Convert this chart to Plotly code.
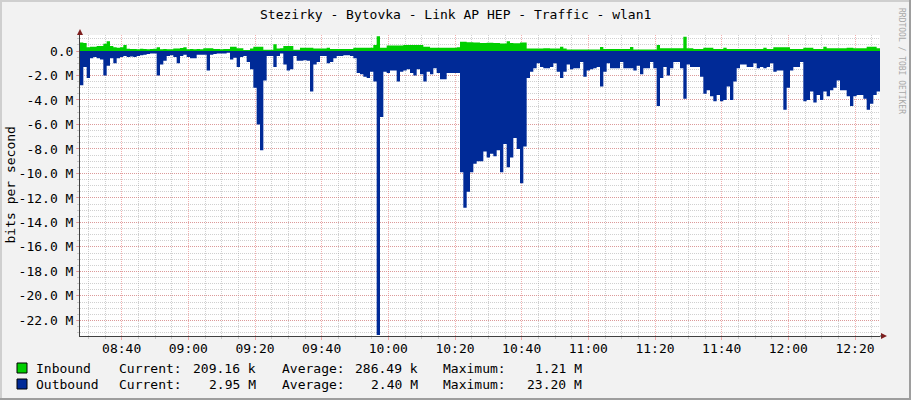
import numpy as np
import pandas as pd
import plotly.graph_objects as go

# ---------------- data (Mbit/s, one value per minute) ----------------
start_time = "2024-01-01 08:27:30"
end_time = "2024-01-01 12:27:30"

inbound_mbps = [
    0.7, 0.65, 0.3, 0.35, 0.35, 0.4, 0.4, 0.6, 0.8, 0.4,
    0.3, 0.27, 0.3, 0.5, 0.18, 0.16, 0.16, 0.15, 0.18, 0.16,
    0.15, 0.16, 0.18, 0.3, 0.15, 0.16, 0.15, 0.15, 0.2, 0.2,
    0.25, 0.3, 0.15, 0.16, 0.15, 0.16, 0.15, 0.22, 0.22, 0.22,
    0.16, 0.16, 0.15, 0.16, 0.16, 0.35, 0.35, 0.22, 0.22, 0.08,
    0.08, 0.2, 0.35, 0.35, 0.35, 0.1, 0.1, 0.1, 0.55, 0.2,
    0.22, 0.4, 0.4, 0.4, 0.1, 0.1, 0.27, 0.27, 0.27, 0.27,
    0.2, 0.2, 0.2, 0.2, 0.27, 0.16, 0.16, 0.16, 0.16, 0.16,
    0.16, 0.16, 0.27, 0.27, 0.27, 0.27, 0.27, 0.27, 0.5, 1.21,
    0.27, 0.27, 0.45, 0.45, 0.45, 0.45, 0.45, 0.5, 0.5, 0.5,
    0.5, 0.5, 0.5, 0.35, 0.35, 0.27, 0.27, 0.27, 0.27, 0.27,
    0.27, 0.27, 0.27, 0.3, 0.75, 0.75, 0.72, 0.72, 0.7, 0.7,
    0.65, 0.65, 0.68, 0.68, 0.65, 0.65, 0.62, 0.62, 0.8, 0.65,
    0.63, 0.63, 0.7, 0.7, 0.2, 0.2, 0.2, 0.2, 0.2, 0.22,
    0.22, 0.2, 0.2, 0.2, 0.35, 0.2, 0.13, 0.13, 0.13, 0.13,
    0.13, 0.13, 0.13, 0.13, 0.13, 0.13, 0.33, 0.16, 0.16, 0.16,
    0.16, 0.16, 0.16, 0.16, 0.16, 0.33, 0.13, 0.13, 0.13, 0.13,
    0.13, 0.13, 0.13, 0.5, 0.22, 0.22, 0.22, 0.22, 0.22, 0.22,
    0.22, 1.17, 0.22, 0.22, 0.16, 0.16, 0.16, 0.27, 0.27, 0.27,
    0.16, 0.16, 0.16, 0.27, 0.16, 0.16, 0.16, 0.16, 0.16, 0.16,
    0.16, 0.16, 0.16, 0.16, 0.16, 0.27, 0.16, 0.16, 0.3, 0.3,
    0.3, 0.3, 0.3, 0.16, 0.16, 0.16, 0.16, 0.27, 0.27, 0.27,
    0.16, 0.16, 0.16, 0.35, 0.22, 0.22, 0.22, 0.22, 0.22, 0.22,
    0.27, 0.27, 0.22, 0.22, 0.22, 0.22, 0.35, 0.35, 0.35, 0.22,
]

outbound_mbps = [
    2.8, 1.3, 2.2, 0.6, 0.5, 0.6, 0.7, 2.0, 1.2, 0.6,
    1.0, 0.6, 0.5, 0.4, 0.5, 0.45, 0.5, 0.4, 0.35, 0.3,
    0.25, 0.2, 0.2, 2.0, 1.1, 0.8, 0.4, 0.35, 0.5, 1.0,
    0.4, 0.3, 0.5, 0.6, 0.6, 0.3, 0.3, 0.3, 1.6, 0.3,
    0.25, 0.2, 0.2, 0.2, 0.15, 0.7, 0.55, 1.3, 0.5, 0.4,
    0.9, 1.5, 3.0, 6.0, 8.1, 2.4, 0.4, 0.4, 1.3, 0.4,
    0.2, 1.1, 1.6, 1.5, 0.4, 0.8, 0.8, 0.75, 0.8, 3.3,
    1.1, 0.9, 0.4, 0.4, 1.0, 0.9, 0.6, 0.4, 0.4, 0.35,
    0.35, 0.4, 0.6, 1.8, 1.9, 2.1, 2.2, 1.7, 2.5, 23.2,
    5.4, 1.7, 1.8, 1.6, 1.6, 2.5, 1.7, 1.6, 1.5, 1.8,
    2.0, 1.5, 1.9, 2.5, 1.7, 1.9, 1.4, 1.8, 2.3, 2.3,
    1.8, 1.8, 1.8, 1.8, 9.9, 12.8, 11.5, 9.9, 9.2, 9.0,
    9.0, 8.2, 8.7, 8.4, 8.6, 8.1, 9.9, 7.6, 9.5, 8.7,
    7.1, 8.0, 10.8, 7.8, 2.2, 1.7, 1.4, 1.0, 1.3, 1.4,
    1.4, 1.3, 1.0, 1.7, 2.2, 1.7, 1.1, 1.5, 1.4, 1.4,
    0.9, 2.1, 1.6, 1.5, 1.4, 1.3, 2.9, 1.7, 1.0, 1.4,
    1.4, 1.4, 0.9, 1.4, 1.4, 1.4, 1.6, 1.2, 1.9, 1.4,
    1.4, 0.9, 1.4, 4.5, 2.2, 1.3, 2.0, 1.4, 0.9, 0.9,
    1.4, 3.9, 1.1, 1.3, 1.3, 1.3, 2.1, 3.5, 3.2, 3.7,
    4.1, 3.6, 4.1, 4.0, 2.9, 4.0, 2.5, 1.4, 1.1, 1.1,
    1.3, 1.3, 1.0, 1.4, 1.3, 1.4, 1.3, 1.0, 1.7, 1.6,
    1.6, 4.8, 3.0, 1.6, 1.3, 1.3, 0.9, 4.1, 4.0, 3.3,
    4.2, 3.6, 4.0, 3.3, 3.7, 3.2, 3.0, 2.4, 3.2, 3.2,
    3.7, 4.5, 3.7, 3.6, 3.6, 3.9, 4.8, 4.3, 3.6, 3.3,
]

y_tick_values_m = [0, -2, -4, -6, -8, -10, -12, -14, -16, -18, -20, -22]
y_tick_labels = ["0.0", "-2.0 M", "-4.0 M", "-6.0 M", "-8.0 M", "-10.0 M", "-12.0 M",
                 "-14.0 M", "-16.0 M", "-18.0 M", "-20.0 M", "-22.0 M"]

series_names = ["Inbound", "Outbound"]
series_colors = ["#00CF00", "#002A97"]
legend_current = ["209.16 k", "2.95 M"]
legend_average = ["286.49 k", "2.40 M"]
legend_maximum = ["1.21 M", "23.20 M"]

title_text = "Stezirky - Bytovka - Link AP HEP - Traffic - wlan1"

# ---------------- build ----------------
W, H = 911, 400
L, R, T, B = 80, 880, 35, 336


def px(x):
    return (x - L) / (R - L)


def py(y):
    return 1 - (y - T) / (B - T)


FONT = "DejaVu Sans Mono"
n = len(outbound_mbps)
times = list(pd.date_range(start_time, periods=n, freq="1min")) + [pd.Timestamp(end_time)]
inb = np.array(inbound_mbps + [inbound_mbps[-1]]) * 1e6
outb = -np.array(outbound_mbps + [outbound_mbps[-1]]) * 1e6

fig = go.Figure()
fig.add_trace(go.Scatter(x=times, y=inb, mode="lines", line=dict(width=0, shape="hv", color=series_colors[0]),
                         fill="tozeroy", fillcolor=series_colors[0], hoverinfo="skip", showlegend=False))
fig.add_trace(go.Scatter(x=times, y=outb, mode="lines", line=dict(width=0, shape="hv", color=series_colors[1]),
                         fill="tozeroy", fillcolor=series_colors[1], hoverinfo="skip", showlegend=False))

major_grid = "rgba(230,110,110,0.55)"
minor_grid = "rgba(150,150,150,0.45)"

ymin = -(B - 51) / 12.245 * 1e6
ymax = (51 - T) / 12.245 * 1e6

fig.update_layout(
    width=W, height=H, autosize=False,
    margin=dict(l=L, r=W - R, t=T, b=H - B, pad=0),
    paper_bgcolor="#F2F2F2", plot_bgcolor="#FFFFFF",
    font=dict(family=FONT, size=13, color="#000000"),
    xaxis=dict(
        type="date", range=[start_time, end_time], automargin=False,
        tickmode="linear", tick0="2024-01-01 08:40:00", dtick=20 * 60 * 1000,
        tickformat="%H:%M", tickfont=dict(family=FONT, size=13, color="#000"),
        ticklabelstandoff=-3,
        showgrid=True, gridcolor=major_grid, griddash="1px,1px", gridwidth=1,
        ticks="outside", ticklen=3, tickcolor=major_grid,
        showline=True, linecolor="#404040", linewidth=1, zeroline=False,
        minor=dict(tickmode="linear", tick0="2024-01-01 08:40:00", dtick=5 * 60 * 1000,
                   showgrid=True, gridcolor=minor_grid, griddash="1px,1px", gridwidth=1,
                   ticks="outside", ticklen=2, tickcolor=minor_grid),
        fixedrange=True,
    ),
    yaxis=dict(
        range=[ymin, ymax], automargin=False,
        tickmode="array", tickvals=[v * 1e6 for v in y_tick_values_m], ticktext=y_tick_labels,
        tickfont=dict(family=FONT, size=13, color="#000"),
        showgrid=True, gridcolor=major_grid, griddash="1px,1px", gridwidth=1,
        ticks="outside", ticklen=3, tickcolor=major_grid,
        showline=True, linecolor="#404040", linewidth=1, zeroline=False,
        minor=dict(tickmode="linear", tick0=0, dtick=5e5,
                   showgrid=True, gridcolor=minor_grid, griddash="1px,1px", gridwidth=1,
                   ticks="outside", ticklen=2, tickcolor=minor_grid),
        fixedrange=True,
    ),
)

shapes = []
# frame shading
shapes.append(dict(type="rect", xref="paper", yref="paper", x0=px(0), x1=px(W), y0=py(0), y1=py(2),
                   fillcolor="#CFCFCF", line=dict(width=0), layer="above"))
shapes.append(dict(type="rect", xref="paper", yref="paper", x0=px(0), x1=px(2), y0=py(0), y1=py(H),
                   fillcolor="#CFCFCF", line=dict(width=0), layer="above"))
shapes.append(dict(type="rect", xref="paper", yref="paper", x0=px(W - 2), x1=px(W), y0=py(0), y1=py(H),
                   fillcolor="#9E9E9E", line=dict(width=0), layer="above"))
shapes.append(dict(type="rect", xref="paper", yref="paper", x0=px(0), x1=px(W), y0=py(H - 2), y1=py(H),
                   fillcolor="#9E9E9E", line=dict(width=0), layer="above"))
# axis arrows
shapes.append(dict(type="path", xref="paper", yref="paper",
                   path=f"M {px(L - 3)} {py(T)} L {px(L + 3)} {py(T)} L {px(L)} {py(T - 6)} Z",
                   fillcolor="#7F1F1F", line=dict(width=0), layer="above"))
shapes.append(dict(type="path", xref="paper", yref="paper",
                   path=f"M {px(R + 1)} {py(B - 3)} L {px(R + 1)} {py(B + 3)} L {px(R + 7)} {py(B)} Z",
                   fillcolor="#7F1F1F", line=dict(width=0), layer="above"))
shapes.append(dict(type="line", xref="paper", yref="paper", x0=px(R), x1=px(R + 2), y0=py(B), y1=py(B),
                   line=dict(color="#404040", width=1), layer="above"))
# legend swatches
for k, c in enumerate(series_colors):
    yc = 368 + 16 * k
    shapes.append(dict(type="rect", xref="paper", yref="paper", x0=px(17), x1=px(27),
                       y0=py(yc - 5), y1=py(yc + 5), fillcolor=c,
                       line=dict(color="#000000", width=1), layer="above"))
fig.update_layout(shapes=shapes)

ann = []
ann.append(dict(text=title_text, xref="paper", yref="paper", x=px(455.5), y=py(14),
                xanchor="center", yanchor="middle", showarrow=False,
                font=dict(family=FONT, size=13, color="#000")))
ann.append(dict(text="bits per second", xref="paper", yref="paper", x=px(10), y=py(185.5),
                xanchor="center", yanchor="middle", textangle=-90, showarrow=False,
                font=dict(family=FONT, size=13, color="#000")))
ann.append(dict(text="RRDTOOL / TOBI OETIKER", xref="paper", yref="paper", x=px(901), y=py(6),
                xanchor="center", yanchor="top", textangle=90, showarrow=False,
                font=dict(family=FONT, size=8, color="#A8A8A8")))
for k in range(2):
    yc = py(368 + 16 * k)
    f = dict(family=FONT, size=13, color="#000")
    ann.append(dict(text=series_names[k], xref="paper", yref="paper", x=px(34), y=yc,
                    xanchor="left", yanchor="middle", showarrow=False, font=f))
    for lab, lx, val, vx in [("Current:", 117, legend_current[k], 258),
                             ("Average:", 280, legend_average[k], 420),
                             ("Maximum:", 441, legend_maximum[k], 584)]:
        ann.append(dict(text=lab, xref="paper", yref="paper", x=px(lx), y=yc,
                        xanchor="left", yanchor="middle", showarrow=False, font=f))
        ann.append(dict(text=val, xref="paper", yref="paper", x=px(vx), y=yc,
                        xanchor="right", yanchor="middle", showarrow=False, font=f))
fig.update_layout(annotations=ann)

fig.write_html("out.html", config={"displayModeBar": False, "staticPlot": True},
               post_script="document.body.style.margin='0px';document.body.style.overflow='hidden';")
